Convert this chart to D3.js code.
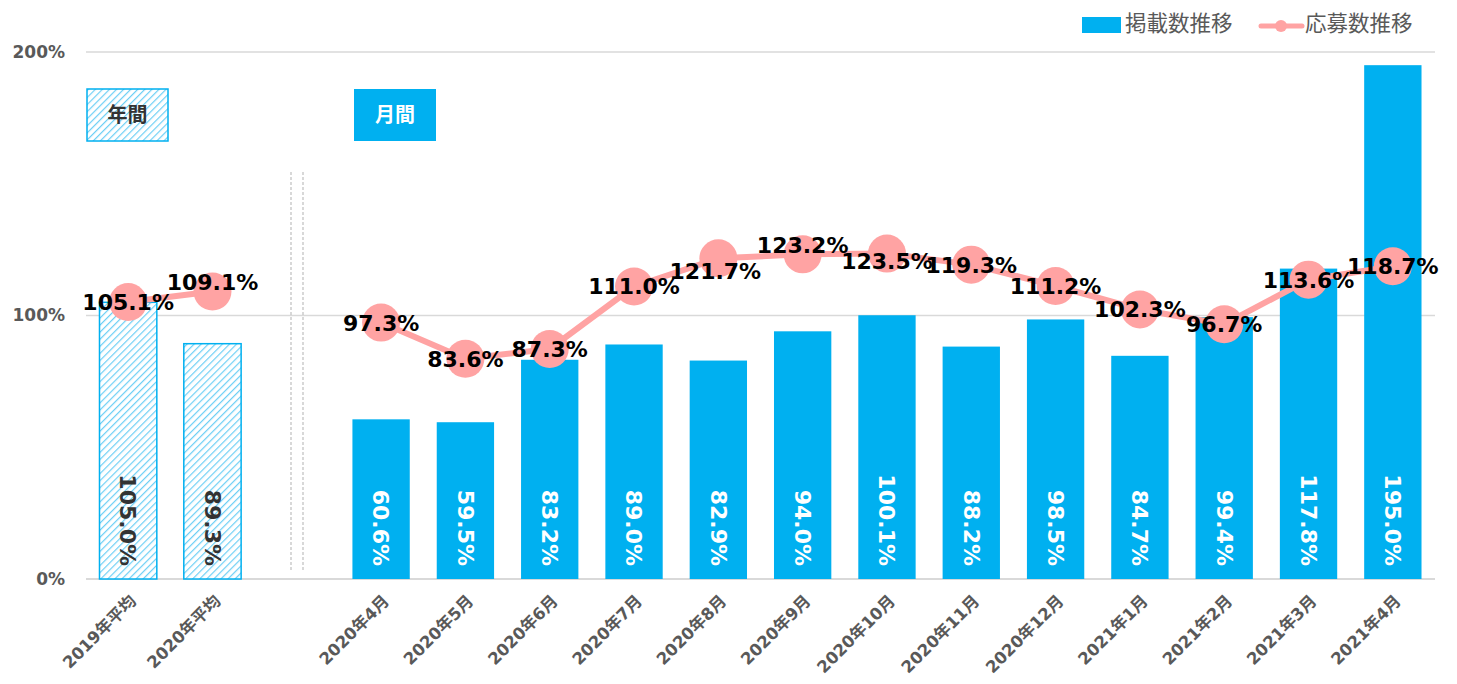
<!DOCTYPE html>
<html><head><meta charset="utf-8">
<script src="https://cdn.jsdelivr.net/npm/d3@7"></script>
<style>
html,body{margin:0;padding:0;background:#fff;}
svg{display:block;font-family:"DejaVu Sans","Noto Sans CJK JP",sans-serif;}
</style></head>
<body><svg id="chart" width="1457" height="684"></svg>
<script>
// ---- data ----
const categories = ["2019年平均","2020年平均","_gap","2020年4月","2020年5月","2020年6月","2020年7月","2020年8月","2020年9月","2020年10月","2020年11月","2020年12月","2021年1月","2021年2月","2021年3月","2021年4月"];
const annualFlags = [true,true,false,false,false,false,false,false,false,false,false,false,false,false,false,false];
const listingValues = [105.0,89.3,null,60.6,59.5,83.2,89.0,82.9,94.0,100.1,88.2,98.5,84.7,99.4,117.8,195.0];
const applicationValues = [105.1,109.1,null,97.3,83.6,87.3,111.0,121.7,123.2,123.5,119.3,111.2,102.3,96.7,113.6,118.7];
const yTicks = [0,100,200];
const seriesNames = ["掲載数推移","応募数推移"];
const sectionLabels = ["年間","月間"];
// label nudges (layout only)
const lineLabelShift = [0,-9,0,0,0,0,0,13,-9,8,0,0,0,0,0,0];
const lineLabelShiftX = [0,0,0,0,0,0,0,-3,0,0,0,0,0,0,0,0];

const BLUE = "#00B0F0", PINK = "#FFA3A3", GRAY = "#595959";
const svg = d3.select("#chart");
const defs = svg.append("defs");
const pat = defs.append("pattern").attr("id","hatch").attr("patternUnits","userSpaceOnUse")
  .attr("width",5).attr("height",5).attr("patternTransform","rotate(45)");
pat.append("rect").attr("width",5).attr("height",5).attr("fill","#fff");
pat.append("line").attr("x1",0).attr("y1",0).attr("x2",0).attr("y2",5)
  .attr("stroke","#6ccff5").attr("stroke-width",2.4);

const x = d3.scaleBand().domain(categories).range([86,1435]).paddingInner(0.32).paddingOuter(0.16);
const y = d3.scaleLinear().domain([0,200]).range([579,52]);

// gridlines
svg.append("g").selectAll("line").data(yTicks).join("line")
  .attr("x1",86).attr("x2",1435).attr("y1",d=>y(d)).attr("y2",d=>y(d))
  .attr("stroke","#d9d9d9").attr("stroke-width",d=>d===0?2:1.5);
svg.append("g").selectAll("text").data(yTicks).join("text")
  .attr("x",65).attr("y",d=>y(d)).attr("dy","0.35em").attr("text-anchor","end")
  .attr("font-size",17).attr("font-weight","bold").attr("fill",GRAY).text(d=>d+"%");

// separator
[291,303].forEach(px=>{
  svg.append("line").attr("x1",px).attr("x2",px).attr("y1",172).attr("y2",572)
    .attr("stroke","#bfbfbf").attr("stroke-width",1.2).attr("stroke-dasharray","3,2");
});

// bars
const idx = d3.range(categories.length).filter(i=>listingValues[i]!==null);
svg.append("g").selectAll("rect").data(idx).join("rect")
  .attr("x",i=>x(categories[i])).attr("width",x.bandwidth())
  .attr("y",i=>y(listingValues[i])).attr("height",i=>y(0)-y(listingValues[i]))
  .attr("fill",i=>annualFlags[i]?"url(#hatch)":BLUE)
  .attr("stroke",i=>annualFlags[i]?BLUE:"none").attr("stroke-width",1.5);

// bar labels (rotated)
svg.append("g").selectAll("text").data(idx).join("text")
  .attr("transform",i=>`translate(${x(categories[i])+x.bandwidth()/2},566) rotate(90)`)
  .attr("text-anchor","end").attr("dy","0.35em")
  .attr("font-size",22).attr("font-weight","bold")
  .attr("fill",i=>annualFlags[i]?"#333":"#fff")
  .text(i=>listingValues[i].toFixed(1)+"%");

// line
const cx = i=>x(categories[i])+x.bandwidth()/2;
const line = d3.line().defined(i=>applicationValues[i]!==null).x(cx).y(i=>y(applicationValues[i]));
svg.append("path").datum(d3.range(categories.length)).attr("d",line)
  .attr("fill","none").attr("stroke",PINK).attr("stroke-width",6).attr("stroke-linejoin","round");
const pidx = d3.range(categories.length).filter(i=>applicationValues[i]!==null);
svg.append("g").selectAll("circle").data(pidx).join("circle")
  .attr("cx",cx).attr("cy",i=>y(applicationValues[i])).attr("r",19).attr("fill",PINK);
svg.append("g").selectAll("text").data(pidx).join("text")
  .attr("x",i=>cx(i)+lineLabelShiftX[i]).attr("y",i=>y(applicationValues[i])+lineLabelShift[i])
  .attr("dy","0.36em").attr("text-anchor","middle")
  .attr("font-size",22).attr("font-weight","bold").attr("fill","#000")
  .text(i=>applicationValues[i].toFixed(1)+"%");

// x labels
svg.append("g").selectAll("text").data(idx).join("text")
  .attr("transform",i=>`translate(${cx(i)+5},598) rotate(-45)`)
  .attr("text-anchor","end").attr("dy","0.35em").attr("font-size",16.5).attr("font-weight","bold").attr("fill",GRAY)
  .text(i=>categories[i]);

// section boxes
svg.append("rect").attr("x",87).attr("y",89).attr("width",81).attr("height",52)
  .attr("fill","url(#hatch)").attr("stroke",BLUE).attr("stroke-width",1.5);
svg.append("text").attr("x",127.5).attr("y",115).attr("dy","0.36em").attr("text-anchor","middle")
  .attr("font-size",20).attr("font-weight","bold").attr("fill","#333").text(sectionLabels[0]);
svg.append("rect").attr("x",354).attr("y",89).attr("width",82).attr("height",52).attr("fill",BLUE);
svg.append("text").attr("x",395).attr("y",115).attr("dy","0.36em").attr("text-anchor","middle")
  .attr("font-size",20).attr("font-weight","bold").attr("fill","#fff").text(sectionLabels[1]);

// legend
const lg = svg.append("g");
lg.append("rect").attr("x",1082).attr("y",17).attr("width",39).attr("height",16).attr("fill",BLUE);
lg.append("text").attr("x",1125).attr("y",23).attr("dy","0.36em").attr("font-size",21.5)
  .attr("fill",GRAY).text(seriesNames[0]);
lg.append("line").attr("x1",1261).attr("x2",1302).attr("y1",26).attr("y2",26)
  .attr("stroke",PINK).attr("stroke-width",5).attr("stroke-linecap","round");
lg.append("circle").attr("cx",1281).attr("cy",26).attr("r",6).attr("fill",PINK);
lg.append("text").attr("x",1305).attr("y",23).attr("dy","0.36em").attr("font-size",21.5)
  .attr("fill",GRAY).text(seriesNames[1]);
</script></body></html>
